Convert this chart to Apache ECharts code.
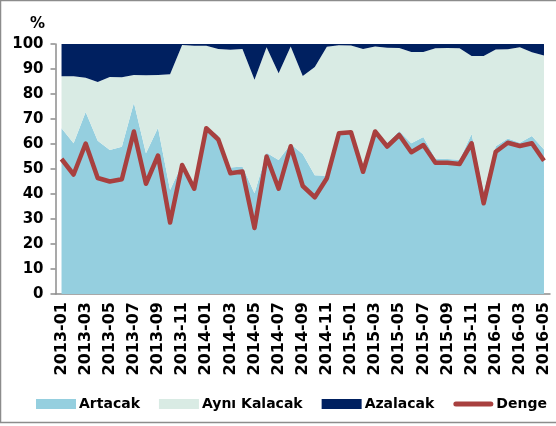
<!DOCTYPE html>
<html>
<head>
<meta charset="utf-8">
<script src="https://cdn.jsdelivr.net/npm/echarts@6/dist/echarts.min.js"></script>
<style>
  html, body { margin: 0; padding: 0; background: #fff; }
  #chart { width: 556px; height: 426px; }
</style>
</head>
<body>
<div id="chart"></div>
<script>
// months 2013-01 .. 2016-05
const months = ['2013-01', '2013-02', '2013-03', '2013-04', '2013-05', '2013-06', '2013-07', '2013-08', '2013-09', '2013-10', '2013-11', '2013-12',
  '2014-01', '2014-02', '2014-03', '2014-04', '2014-05', '2014-06', '2014-07', '2014-08', '2014-09', '2014-10', '2014-11', '2014-12',
  '2015-01', '2015-02', '2015-03', '2015-04', '2015-05', '2015-06', '2015-07', '2015-08', '2015-09', '2015-10', '2015-11', '2015-12',
  '2016-01', '2016-02', '2016-03', '2016-04', '2016-05']

const artacak = [66.3, 60.3, 72.8, 61.3, 57.6, 58.9, 76.5, 56.3, 66.5, 41.6, 52.0, 43.0,
  67.0, 63.5, 50.6, 51.0, 40.3, 56.5, 53.6, 60.0, 56.0, 47.5, 47.3, 65.0,
  65.3, 51.0, 66.0, 60.5, 65.2, 60.3, 62.8, 54.2, 54.0, 53.7, 64.0, 41.0,
  59.1, 62.2, 60.5, 63.2, 57.8]

const azalacak = [12.9, 12.9, 13.5, 15.2, 13.2, 13.3, 12.4, 12.5, 12.4, 12.1, 0.4, 0.7,
  0.7, 2.0, 2.3, 2.0, 14.3, 1.3, 11.7, 1.0, 12.8, 9.2, 1.1, 0.5,
  0.6, 2.0, 1.0, 1.5, 1.6, 3.2, 3.2, 1.7, 1.6, 1.7, 4.8, 4.8,
  2.2, 2.1, 1.3, 3.3, 4.6]

// what is left of 100
const ayniKalacak = artacak.map((v, i) => +(100 - v - azalacak[i]).toFixed(1))

const denge = [54.0, 47.8, 60.2, 46.4, 45.0, 45.9, 65.0, 44.1, 55.4, 28.6, 51.6, 42.1,
  66.3, 61.8, 48.3, 49.0, 26.4, 55.0, 42.1, 59.1, 43.2, 38.7, 46.3, 64.3,
  64.7, 48.9, 65.0, 59.0, 63.6, 56.7, 59.6, 52.5, 52.5, 52.0, 60.3, 36.3,
  56.9, 60.5, 59.2, 60.3, 53.3]

const font = 'DejaVu Sans'

function areaSeries(name, data, color) {
  return {
    name,
    type: 'line',
    stack: 'toplam',
    data,
    symbol: 'none',
    lineStyle: { width: 0 },
    itemStyle: { color },
    areaStyle: { color, opacity: 1 },
    emphasis: { disabled: true }
  }
}

const chart = echarts.init(document.getElementById('chart'))

chart.setOption({
  animation: false,
  title: {
    text: '%',
    left: 25,
    top: 12,
    textStyle: { fontFamily: font, fontWeight: 'bold', fontSize: 15, color: '#000' }
  },
  graphic: [{
    type: 'rect',
    shape: { x: 0.5, y: 0.5, width: 570, height: 422 },
    style: { fill: 'none', stroke: '#8c8c8c', lineWidth: 1.5 },
    silent: true
  }],
  grid: {
    left: 55.5,
    right: 6,
    top: 44,
    bottom: 132
  },
  legend: {
    bottom: 10,
    left: 31,
    width: 525,
    itemWidth: 40,
    itemHeight: 10,
    itemGap: 19,
    textStyle: { fontFamily: font, fontWeight: 'bold', fontSize: 14, color: '#000', padding: [0, 0, 0, -2] },
    data: [
      { name: 'Artacak', icon: 'rect' },
      { name: 'Aynı Kalacak', icon: 'rect' },
      { name: 'Azalacak', icon: 'rect' },
      {
        name: 'Denge',
        icon: 'path://M2.5,0 L37.5,0 A2.5,2.5 0 0 1 37.5,5 L2.5,5 A2.5,2.5 0 0 1 2.5,0 Z',
        itemStyle: { color: '#a8403f', borderWidth: 0 }
      }
    ]
  },
  xAxis: {
    type: 'category',
    boundaryGap: true,
    data: months,
    axisLine: { lineStyle: { color: '#8c8c8c', width: 1.5 } },
    axisTick: { interval: 2, length: 5, lineStyle: { color: '#8c8c8c', width: 1.5 } },
    axisLabel: {
      interval: 1,
      rotate: 90,
      margin: 8,
      color: '#000',
      fontFamily: font,
      fontWeight: 'bold',
      fontSize: 16
    }
  },
  yAxis: {
    type: 'value',
    min: 0,
    max: 100,
    interval: 10,
    splitLine: { show: false },
    axisLine: { show: true, lineStyle: { color: '#8c8c8c', width: 1.5 } },
    axisTick: { show: true, length: 5, lineStyle: { color: '#8c8c8c', width: 1.5 } },
    axisLabel: {
      margin: 12,
      color: '#000',
      fontFamily: font,
      fontWeight: 'bold',
      fontSize: 15
    }
  },
  series: [
    areaSeries('Artacak', artacak, '#95cfdf'),
    areaSeries('Aynı Kalacak', ayniKalacak, '#d9ebe4'),
    areaSeries('Azalacak', azalacak, '#002060'),
    {
      name: 'Denge',
      type: 'line',
      data: denge,
      symbol: 'none',
      z: 5,
      lineStyle: { color: '#a8403f', width: 4.5, join: 'round' },
      itemStyle: { color: '#a8403f' },
      emphasis: { disabled: true }
    }
  ]
})
</script>
</body>
</html>
